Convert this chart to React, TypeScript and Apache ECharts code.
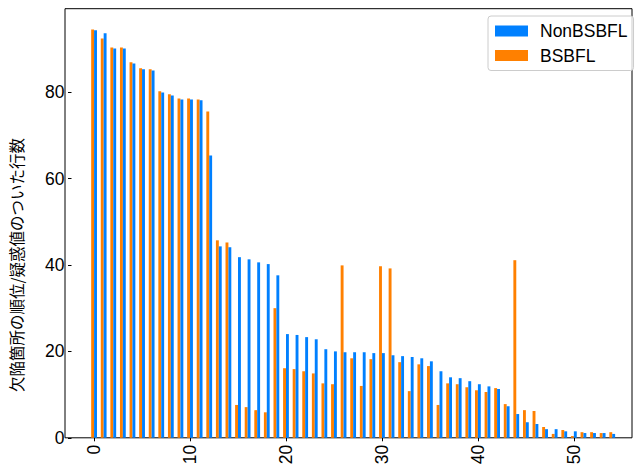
import React, { useEffect, useRef } from "react";
import * as echarts from "echarts";

const nonBSBFL: number[] = [
  94.3, 93.6, 90.1, 90.1, 86.6, 85.3, 85.0, 79.9, 79.2, 78.3,
  78.3, 78.1, 65.3, 44.3, 44.1, 41.8, 41.3, 40.6, 40.2, 37.6,
  24.0, 23.8, 23.3, 22.8, 20.5, 20.0, 19.8, 19.8, 19.8, 19.6,
  19.6, 19.1, 18.9, 18.7, 18.4, 17.7, 15.4, 14.0, 13.8, 13.1,
  12.4, 11.9, 11.3, 7.3, 5.5, 3.6, 3.2, 2.0, 2.0, 1.5,
  1.5, 1.1, 1.1, 1.1, 0.9,
];

const bsbfl: number[] = [
  94.5, 92.4, 90.3, 90.3, 86.9, 85.5, 85.3, 80.2, 79.5, 78.5,
  78.5, 78.3, 75.5, 45.7, 45.2, 7.6, 7.1, 6.4, 5.9, 30.0,
  16.1, 15.9, 15.4, 14.9, 12.6, 12.4, 39.9, 18.4, 12.0, 18.2,
  39.7, 39.2, 17.5, 10.8, 17.0, 16.6, 7.6, 12.6, 12.4, 11.7,
  11.0, 10.6, 11.5, 7.8, 41.1, 6.4, 6.2, 2.5, 0.9, 1.8,
  0.4, 1.3, 1.3, 1.1, 1.3,
];

const seriesNames = ["NonBSBFL", "BSBFL"];
const yLabel = "欠陥箇所の順位/疑惑値のついた行数";

const BLUE = "#0080ff";
const ORANGE = "#ff8000";
const FONT = "Liberation Sans";
const FS = 17.5;

export default function App() {
  const ref = useRef<HTMLDivElement>(null);

  useEffect(() => {
    if (!ref.current) return;
    const chart = echarts.init(ref.current, undefined, { renderer: "svg" });

    const toPairs = (arr: number[]) => arr.map((v, i) => [i, v]);

    const option: any = {
      animation: false,
      backgroundColor: "#ffffff",
      legend: {
        data: seriesNames,
        orient: "vertical",
        left: 488,
        top: 16,
        padding: [6, 6, 6, 7],
        itemWidth: 33,
        itemHeight: 11,
        itemGap: 6.5,
        icon: "rect",
        borderColor: "#cccccc",
        borderWidth: 1,
        borderRadius: 3,
        backgroundColor: "rgba(255,255,255,0.8)",
        textStyle: { fontFamily: FONT, fontSize: FS, color: "#000", padding: [0, 0, 0, 7] },
      },
      grid: [
        {
          left: 65,
          right: 8,
          top: 8.7,
          bottom: 34.2,
          show: true,
          borderColor: "#000",
          borderWidth: 1,
          backgroundColor: "transparent",
        },
        { left: 94.4, right: 65.6, top: 8.7, bottom: 34.2 },
        { left: 65, right: 8, top: 92.2, bottom: 34.2 },
      ],
      xAxis: [
        {
          type: "value",
          gridIndex: 0,
          min: -3.03,
          max: 56.06,
          axisLine: { show: false },
          axisTick: { show: false },
          axisLabel: { show: false },
          splitLine: { show: false },
        },
        {
          type: "value",
          gridIndex: 1,
          min: 0,
          max: 50,
          interval: 10,
          axisLine: { show: false },
          axisTick: { show: true, length: 3.5, lineStyle: { color: "#000", width: 1 } },
          axisLabel: {
            show: true,
            rotate: 90,
            margin: 7,
            fontFamily: FONT,
            fontSize: FS,
            color: "#000",
          },
          splitLine: { show: false },
        },
        {
          type: "value",
          gridIndex: 2,
          show: false,
        },
      ],
      yAxis: [
        {
          type: "value",
          gridIndex: 0,
          min: 0,
          max: 99.3,
          axisLine: { show: false },
          axisTick: { show: false },
          axisLabel: { show: false },
          splitLine: { show: false },
        },
        {
          type: "value",
          gridIndex: 1,
          show: false,
        },
        {
          type: "value",
          gridIndex: 2,
          min: 0,
          max: 80,
          interval: 20,
          axisLine: { show: false },
          axisTick: { show: true, length: 3.5, lineStyle: { color: "#000", width: 1 } },
          axisLabel: {
            show: true,
            margin: 7,
            fontFamily: FONT,
            fontSize: FS,
            color: "#000",
          },
          splitLine: { show: false },
          name: yLabel,
          nameLocation: "middle",
          nameGap: 48,
          nameRotate: 90,
          nameTextStyle: {
            fontFamily: "Noto Sans CJK JP",
            fontSize: 15.5,
            color: "#000",
          },
        },
      ],
      series: [
        {
          name: "BSBFL",
          type: "bar",
          xAxisIndex: 0,
          yAxisIndex: 0,
          data: toPairs(bsbfl),
          barWidth: 2.9,
          barGap: "0%",
          itemStyle: { color: ORANGE },
        },
        {
          name: "NonBSBFL",
          type: "bar",
          xAxisIndex: 0,
          yAxisIndex: 0,
          data: toPairs(nonBSBFL),
          barWidth: 2.9,
          barGap: "0%",
          itemStyle: { color: BLUE },
        },
      ],
    };

    chart.setOption(option);
    return () => chart.dispose();
  }, []);

  return (
    <div
      ref={ref}
      style={{ position: "fixed", left: 0, top: 0, width: 640, height: 472 }}
    />
  );
}
